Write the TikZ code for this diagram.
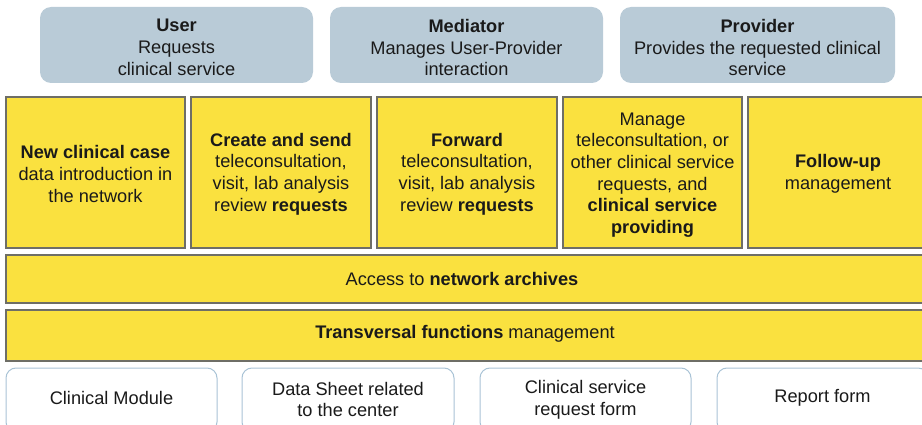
\documentclass[tikz,border=0pt]{standalone}
\usepackage{fontspec}
\setmainfont{Liberation Sans}
\definecolor{roleblue}{HTML}{B9CBD7}
\definecolor{layeryellow}{HTML}{FAE13F}
\definecolor{layeredge}{HTML}{6E6E66}
\definecolor{formedge}{HTML}{A9C3D6}
\definecolor{inktext}{HTML}{1A1A1A}
\begin{document}
\begin{tikzpicture}[x=1pt,y=-1pt,
  every node/.style={inner sep=0pt, outer sep=0pt, text=inktext,
    font=\fontsize{18.2}{21.7}\selectfont, align=center},
  rolebox/.style={fill=roleblue, draw=none, rounded corners=11pt},
  layerbox/.style={fill=layeryellow, draw=layeredge, line width=1.3pt},
  formbox/.style={fill=white, draw=formedge, line width=1pt, rounded corners=10pt}]
\useasboundingbox (0,0) rectangle (922,425);
\clip (0,0) rectangle (922,425);

% roles
\node[rolebox, minimum width=273pt, minimum height=76pt] (user) at (176.5,45) {};
\node at (176.5,47.5) {\textbf{User}\\Requests\\clinical service};
\node[rolebox, minimum width=273pt, minimum height=76pt] (mediator) at (466.5,45) {};
\node at (466.5,47.5) {\textbf{Mediator}\\Manages User-Provider\\interaction};
\node[rolebox, minimum width=275pt, minimum height=76pt] (provider) at (757.5,45) {};
\node at (757.5,47.5) {\textbf{Provider}\\Provides the requested clinical\\service};

% functional blocks
\node[layerbox, minimum width=179pt, minimum height=151pt] (newcase) at (95.5,172.5) {};
\node at (95.5,174) {\textbf{New clinical case}\\data introduction in\\the network};
\node[layerbox, minimum width=180pt, minimum height=151pt] (create) at (281,172.5) {};
\node at (281,174) {\textbf{Create and send}\\teleconsultation,\\visit, lab analysis\\review \textbf{requests}};
\node[layerbox, minimum width=180pt, minimum height=151pt] (forward) at (467,172.5) {};
\node at (467,174) {\textbf{Forward}\\teleconsultation,\\visit, lab analysis\\review \textbf{requests}};
\node[layerbox, minimum width=179pt, minimum height=151pt] (manage) at (652.5,172.5) {};
\node at (652.5,175) {Manage\\teleconsultation, or\\other clinical service\\requests, and\\\textbf{clinical service}\\\textbf{providing}};
\node[layerbox, minimum width=180pt, minimum height=151pt] (followup) at (838,172.5) {};
\node at (838,174) {\textbf{Follow-up}\\management};

% horizontal layers
\node[layerbox, minimum width=924pt, minimum height=48pt] (archives) at (468,279) {};
\node at (462,278.5) {Access to \textbf{network archives}};
\node[layerbox, minimum width=924pt, minimum height=51pt] (transversal) at (468,335.5) {};
\node at (465,334) {\textbf{Transversal functions} management};

% forms
\node[formbox, minimum width=211pt, minimum height=64pt] (clinmod) at (111.5,400) {};
\node at (111.5,397.5) {Clinical Module};
\node[formbox, minimum width=212pt, minimum height=64pt] (datasheet) at (348,400) {};
\node at (348,399.5) {Data Sheet related\\to the center};
\node[formbox, minimum width=211pt, minimum height=64pt] (reqform) at (585.5,400) {};
\node at (585.5,399.5) {Clinical service\\request form};
\node[formbox, minimum width=211pt, minimum height=64pt] (report) at (822.5,400) {};
\node at (822.5,397.5) {Report form};
\end{tikzpicture}
\end{document}
